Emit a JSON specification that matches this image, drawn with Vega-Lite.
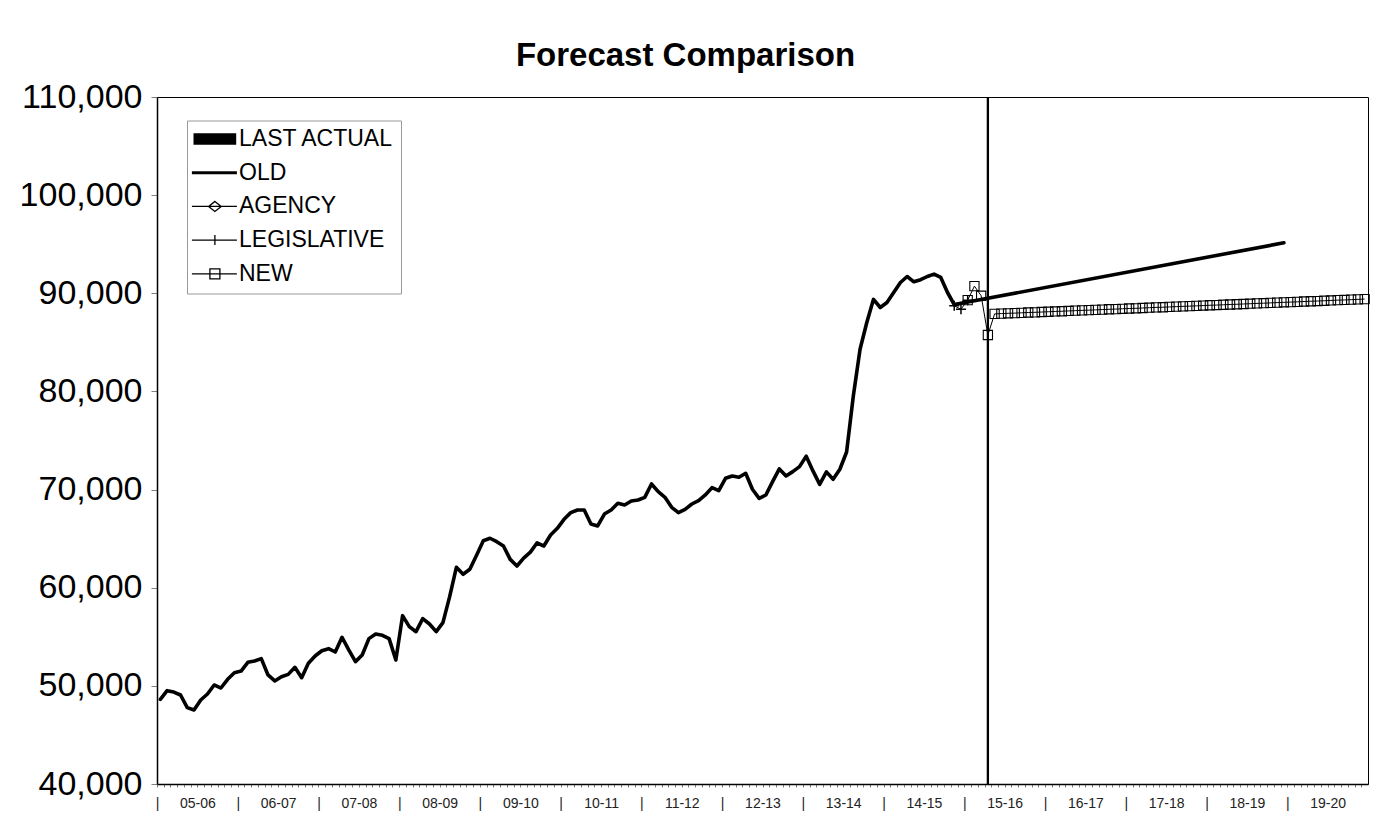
{
  "$schema": "https://vega.github.io/schema/vega-lite/v6.json",
  "width": 1211,
  "height": 687,
  "autosize": {"type": "none"},
  "padding": {"left": 157, "top": 97, "right": 12, "bottom": 47},
  "background": "white",
  "title": {"text": "Forecast Comparison", "font": "Liberation Sans", "fontSize": 33, "fontWeight": "bold", "color": "black", "anchor": "middle", "dx": -77, "offset": 31, "dy": 50, "baseline": "alphabetic"},
  "config": {"view": {"stroke": "black", "strokeWidth": 1}},
  "datasets": {
    "old": [
      {"i":0,"v":48630},{"i":1,"v":49510},{"i":2,"v":49370},{"i":3,"v":49070},{"i":4,"v":47780},{"i":5,"v":47540},{"i":6,"v":48560},{"i":7,"v":49170},{"i":8,"v":50090},{"i":9,"v":49780},{"i":10,"v":50670},{"i":11,"v":51340},
      {"i":12,"v":51510},{"i":13,"v":52400},{"i":14,"v":52530},{"i":15,"v":52770},{"i":16,"v":51110},{"i":17,"v":50500},{"i":18,"v":50930},{"i":19,"v":51170},{"i":20,"v":51890},{"i":21,"v":50830},{"i":22,"v":52300},{"i":23,"v":53040},
      {"i":24,"v":53580},{"i":25,"v":53790},{"i":26,"v":53450},{"i":27,"v":54950},{"i":28,"v":53660},{"i":29,"v":52470},{"i":30,"v":53150},{"i":31,"v":54810},{"i":32,"v":55290},{"i":33,"v":55150},{"i":34,"v":54810},{"i":35,"v":52640},
      {"i":36,"v":57150},{"i":37,"v":56030},{"i":38,"v":55520},{"i":39,"v":56850},{"i":40,"v":56300},{"i":41,"v":55520},{"i":42,"v":56440},{"i":43,"v":59090},{"i":44,"v":62080},{"i":45,"v":61370},{"i":46,"v":61880},{"i":47,"v":63300},
      {"i":48,"v":64790},{"i":49,"v":65040},{"i":50,"v":64690},{"i":51,"v":64250},{"i":52,"v":62890},{"i":53,"v":62210},{"i":54,"v":63020},{"i":55,"v":63630},{"i":56,"v":64580},{"i":57,"v":64250},{"i":58,"v":65370},{"i":59,"v":66050},
      {"i":60,"v":66970},{"i":61,"v":67650},{"i":62,"v":67920},{"i":63,"v":67920},{"i":64,"v":66490},{"i":65,"v":66290},{"i":66,"v":67510},{"i":67,"v":67920},{"i":68,"v":68600},{"i":69,"v":68430},{"i":70,"v":68840},{"i":71,"v":68940},
      {"i":72,"v":69210},{"i":73,"v":70570},{"i":74,"v":69790},{"i":75,"v":69210},{"i":76,"v":68190},{"i":77,"v":67650},{"i":78,"v":67990},{"i":79,"v":68530},{"i":80,"v":68870},{"i":81,"v":69450},{"i":82,"v":70200},{"i":83,"v":69890},
      {"i":84,"v":71150},{"i":85,"v":71390},{"i":86,"v":71250},{"i":87,"v":71660},{"i":88,"v":70030},{"i":89,"v":69110},{"i":90,"v":69450},{"i":91,"v":70810},{"i":92,"v":72100},{"i":93,"v":71390},{"i":94,"v":71830},{"i":95,"v":72340},
      {"i":96,"v":73400},{"i":97,"v":71900},{"i":98,"v":70530},{"i":99,"v":71800},{"i":100,"v":71050},{"i":101,"v":72070},{"i":102,"v":73830},{"i":103,"v":79540},{"i":104,"v":84300},{"i":105,"v":87020},{"i":106,"v":89380},{"i":107,"v":88550},
      {"i":108,"v":89060},{"i":109,"v":90080},{"i":110,"v":91100},{"i":111,"v":91710},{"i":112,"v":91170},{"i":113,"v":91380},{"i":114,"v":91710},{"i":115,"v":91950},{"i":116,"v":91610},{"i":117,"v":90080},{"i":118,"v":88850},
      {"i":167,"v":95140}
    ],
    "last": [{"i":123,"v":110000}],
    "leg": [{"i":118,"v":88720},{"i":119,"v":88380},{"i":120,"v":89300}],
    "new": [
      {"i":120,"v":89300},{"i":121,"v":90730},{"i":122,"v":89750},{"i":123,"v":85750},
      {"i":124,"v":87900},{"i":125,"v":87930},{"i":126,"v":87960},{"i":127,"v":87980},{"i":128,"v":88010},{"i":129,"v":88040},{"i":130,"v":88060},{"i":131,"v":88090},
      {"i":132,"v":88120},{"i":133,"v":88150},{"i":134,"v":88170},{"i":135,"v":88200},{"i":136,"v":88230},{"i":137,"v":88260},{"i":138,"v":88280},{"i":139,"v":88310},
      {"i":140,"v":88340},{"i":141,"v":88370},{"i":142,"v":88390},{"i":143,"v":88420},{"i":144,"v":88450},{"i":145,"v":88470},{"i":146,"v":88500},{"i":147,"v":88530},
      {"i":148,"v":88560},{"i":149,"v":88580},{"i":150,"v":88610},{"i":151,"v":88640},{"i":152,"v":88670},{"i":153,"v":88690},{"i":154,"v":88720},{"i":155,"v":88750},
      {"i":156,"v":88780},{"i":157,"v":88800},{"i":158,"v":88830},{"i":159,"v":88860},{"i":160,"v":88880},{"i":161,"v":88910},{"i":162,"v":88940},{"i":163,"v":88970},
      {"i":164,"v":88990},{"i":165,"v":89020},{"i":166,"v":89050},{"i":167,"v":89080},{"i":168,"v":89100},{"i":169,"v":89130},{"i":170,"v":89160},{"i":171,"v":89190},
      {"i":172,"v":89210},{"i":173,"v":89240},{"i":174,"v":89270},{"i":175,"v":89300},{"i":176,"v":89320},{"i":177,"v":89350},{"i":178,"v":89380},{"i":179,"v":89410}
    ],
    "names": [{"series":"LAST ACTUAL"},{"series":"OLD"},{"series":"AGENCY"},{"series":"LEGISLATIVE"},{"series":"NEW"}]
  },
  "encoding": {
    "x": {"field": "i", "type": "quantitative",
      "scale": {"domain": [-0.5, 179.5], "nice": false, "zero": false},
      "axis": {"title": null, "tickCount": 180, "tickOffset": -3.36, "labelDx": 3.36,
        "labelExpr": "datum.value % 12 == 0 ? '|' : (datum.value % 12 == 6 ? ((5 + (datum.value - 6) / 12) < 10 ? '0' : '') + (5 + (datum.value - 6) / 12) + '-' + ((6 + (datum.value - 6) / 12) < 10 ? '0' : '') + (6 + (datum.value - 6) / 12) : '')",
        "labelOverlap": false, "labelFlush": false, "labelBound": false, "labelAngle": 0, "labelAlign": "center", "labelBaseline": "top",
        "tickSize": 3, "tickColor": "#808080", "tickWidth": 1, "domainColor": "black", "domainWidth": 1.5,
        "labelFont": "Liberation Sans", "labelFontSize": 14, "labelColor": "#222222", "labelPadding": 9, "grid": false}},
    "y": {"field": "v", "type": "quantitative",
      "scale": {"domain": [40000, 110000], "nice": false, "zero": false},
      "axis": {"title": null, "values": [40000, 50000, 60000, 70000, 80000, 90000, 100000, 110000], "format": ",d",
        "labelFont": "Liberation Sans", "labelFontSize": 34, "labelColor": "black", "tickColor": "#808080", "tickSize": 6,
        "domainColor": "black", "domainWidth": 1.5, "labelPadding": 9, "grid": false}}
  },
  "layer": [
    {
      "data": {"name": "names"},
      "mark": {"type": "point", "opacity": 0, "filled": false},
      "encoding": {
        "x": {"datum": 0},
        "y": {"datum": 40000},
        "color": {"field": "series", "type": "nominal",
          "scale": {"domain": ["LAST ACTUAL", "OLD", "AGENCY", "LEGISLATIVE", "NEW"], "range": ["black", "black", "black", "black", "black"]},
          "legend": {"title": null, "orient": "none", "legendX": 30, "legendY": 23.5, "direction": "vertical",
            "fillColor": "white", "strokeColor": "#999999", "padding": 7,
            "labelFont": "Liberation Sans", "labelFontSize": 23, "labelColor": "black", "labelOffset": 22,
            "labelExpr": "datum.label + ' '",
            "symbolSize": 400, "rowPadding": 9.7, "symbolOpacity": 1}},
        "shape": {"field": "series", "type": "nominal",
          "scale": {"domain": ["LAST ACTUAL", "OLD", "AGENCY", "LEGISLATIVE", "NEW"],
            "range": [
              "M-1.2,-0.5H3.07M-1.2,-0.375H3.07M-1.2,-0.25H3.07M-1.2,-0.125H3.07M-1.2,0H3.07M-1.2,0.125H3.07M-1.2,0.25H3.07M-1.2,0.375H3.07M-1.2,0.5H3.07",
              "M-1.36,0H3.14",
              "M-1.36,0H3.14M0.94,-0.5L1.57,0L0.94,0.5L0.31,0Z",
              "M-1.36,0H3.14M0.94,-0.5V0.5",
              "M-1.36,0H3.14M0.44,-0.5H1.44V0.5H0.44Z"]},
          "legend": {"title": null, "orient": "none", "legendX": 30, "legendY": 23.5, "direction": "vertical",
            "fillColor": "white", "strokeColor": "#999999", "padding": 7,
            "labelFont": "Liberation Sans", "labelFontSize": 23, "labelColor": "black", "labelOffset": 22,
            "labelExpr": "datum.label + ' '",
            "symbolSize": 400, "rowPadding": 9.7, "symbolOpacity": 1}},
        "strokeWidth": {"field": "series", "type": "nominal",
          "scale": {"type": "ordinal", "domain": ["LAST ACTUAL", "OLD", "AGENCY", "LEGISLATIVE", "NEW"], "range": [1.6, 3, 1.3, 1.3, 1.3]},
          "legend": {"title": null, "orient": "none", "legendX": 30, "legendY": 23.5, "direction": "vertical",
            "fillColor": "white", "strokeColor": "#999999", "padding": 7,
            "labelFont": "Liberation Sans", "labelFontSize": 23, "labelColor": "black", "labelOffset": 22,
            "labelExpr": "datum.label + ' '",
            "symbolSize": 400, "rowPadding": 9.7, "symbolOpacity": 1}}
      }
    },
    {
      "data": {"name": "old"},
      "mark": {"type": "line", "color": "black", "strokeWidth": 3.6, "strokeJoin": "round", "strokeCap": "round"}
    },
    {
      "data": {"name": "last"},
      "mark": {"type": "rule", "color": "black", "strokeWidth": 2.3},
      "encoding": {"y2": {"datum": 40000}}
    },
    {
      "data": {"name": "leg"},
      "mark": {"type": "line", "color": "black", "strokeWidth": 1}
    },
    {
      "data": {"name": "leg"},
      "mark": {"type": "point", "shape": "M-1,0H1M0,-1V1", "size": 100, "filled": false, "color": "black", "strokeWidth": 1.5, "opacity": 1}
    },
    {
      "data": {"name": "new"},
      "mark": {"type": "line", "color": "black", "strokeWidth": 1}
    },
    {
      "data": {"name": "new"},
      "mark": {"type": "point", "shape": "square", "size": 85, "filled": false, "color": "black", "strokeWidth": 1.1, "opacity": 1}
    }
  ]
}
